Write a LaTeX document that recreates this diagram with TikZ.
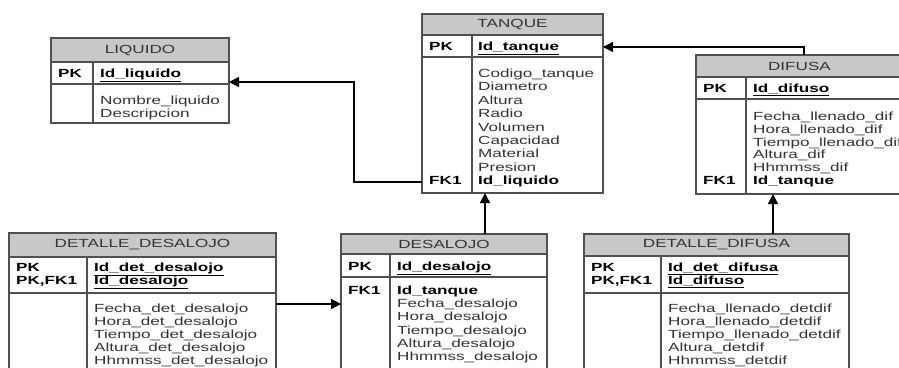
\documentclass[tikz,border=0pt]{standalone}
\usepackage{fontspec}
\setmainfont{Liberation Sans}[FakeStretch=1.45]
\usetikzlibrary{arrows.meta}

\definecolor{hdrfill}{HTML}{C8C8C8}
\definecolor{framecol}{HTML}{505050}
\definecolor{txtcol}{HTML}{333333}

\tikzset{
  tablebox/.style={draw=framecol, line width=1.1pt, inner sep=0pt, outer sep=0pt},
  rule/.style={draw=framecol, line width=1.1pt},
  headtxt/.style={inner sep=0pt, text=txtcol, font=\fontsize{11.8}{13}\selectfont},
  keytxt/.style={inner sep=0pt, anchor=base west, text=black, font=\fontsize{11.8}{13}\selectfont\bfseries},
  attrtxt/.style={inner sep=0pt, anchor=base west, text=txtcol, font=\fontsize{11.8}{13}\selectfont},
  conn/.style={draw=black, line width=1.3pt, -{Triangle[length=10pt,width=10pt]}},
}

% #1 name, #2 left, #3 right, #4 top, #5 header bottom, #6 key row bottom,
% #7 bottom, #8 column divider, #9 title
\newcommand\ertable[9]{%
  \fill[hdrfill] (#2,#4) rectangle (#3,#5);
  \node[tablebox, minimum width={(#3)-(#2)}, minimum height={(#7)-(#4)}]
    (#1) at ({((#2)+(#3))/2},{((#4)+(#7))/2}) {};
  \draw[rule] (#2,#5) -- (#3,#5) (#2,#6) -- (#3,#6) (#8,#5) -- (#8,#7);
  \node[headtxt] (#1-title) at ({((#2)+(#3))/2},{((#4)+(#5))/2}) {#9};
}

\begin{document}
\begin{tikzpicture}[x=1pt,y=-1pt]
\path[use as bounding box, clip] (0,0) rectangle (899,367);
\fill[white] (0,0) rectangle (899,367);

% LIQUIDO
\ertable{liquido}{51}{229}{38}{62}{84}{123}{93}{LIQUIDO}
\node[keytxt] (liquido-pk) at (58,77) {PK};
\node[keytxt] (liquido-id) at (100,77) {\underline{Id\_liquido}};
\foreach \t [count=\i from 0] in {Nombre\_liquido, Descripcion}
  \node[attrtxt] (liquido-a\i) at (100,{104.5+12.5*\i}) {\t};

% TANQUE
\ertable{tanque}{422}{603}{14}{35}{57}{193}{472}{TANQUE}
\node[keytxt] (tanque-pk) at (429,50.5) {PK};
\node[keytxt] (tanque-id) at (478,50.5) {\underline{Id\_tanque}};
\foreach \t [count=\i from 0] in {Codigo\_tanque, Diametro, Altura, Radio, Volumen, Capacidad, Material, Presion}
  \node[attrtxt] (tanque-a\i) at (478,{77.5+13.4*\i}) {\t};
\node[keytxt] (tanque-fk) at (429,184.5) {FK1};
\node[keytxt] (tanque-fkf) at (478,184.5) {Id\_liquido};

% DIFUSA
\ertable{difusa}{696}{903}{55}{77}{99}{194}{746}{DIFUSA}
\node[keytxt] (difusa-pk) at (703,92.5) {PK};
\node[keytxt] (difusa-id) at (753,92.5) {\underline{Id\_difuso}};
\foreach \t [count=\i from 0] in {Fecha\_llenado\_dif, Hora\_llenado\_dif, Tiempo\_llenado\_dif, Altura\_dif, Hhmmss\_dif}
  \node[attrtxt] (difusa-a\i) at (753,{120.5+12.8*\i}) {\t};
\node[keytxt] (difusa-fk) at (703,184.5) {FK1};
\node[keytxt] (difusa-fkf) at (753,184.5) {Id\_tanque};

% DETALLE_DESALOJO
\ertable{detdes}{9}{276}{233}{257}{293}{380}{87}{DETALLE\_DESALOJO}
\node[keytxt] (detdes-pk) at (16,271.5) {PK};
\node[keytxt] (detdes-pkfk) at (16,284.5) {PK,FK1};
\node[keytxt] (detdes-id) at (94,271.5) {\underline{Id\_det\_desalojo}};
\node[keytxt] (detdes-id2) at (94,284.5) {\underline{Id\_desalojo}};
\foreach \t [count=\i from 0] in {Fecha\_det\_desalojo, Hora\_det\_desalojo, Tiempo\_det\_desalojo, Altura\_det\_desalojo, Hhmmss\_det\_desalojo}
  \node[attrtxt] (detdes-a\i) at (94,{312.5+13*\i}) {\t};

% DESALOJO
\ertable{desalojo}{341}{547}{234}{254}{277}{380}{390}{DESALOJO}
\node[keytxt] (desalojo-pk) at (348,270.5) {PK};
\node[keytxt] (desalojo-id) at (397,270.5) {\underline{Id\_desalojo}};
\node[keytxt] (desalojo-fk) at (348,294.5) {FK1};
\node[keytxt] (desalojo-fkf) at (397,294.5) {Id\_tanque};
\foreach \t [count=\i from 1] in {Fecha\_desalojo, Hora\_desalojo, Tiempo\_desalojo, Altura\_desalojo, Hhmmss\_desalojo}
  \node[attrtxt] (desalojo-a\i) at (397,{294.5+13.2*\i}) {\t};

% DETALLE_DIFUSA
\ertable{detdif}{584}{849}{234}{256}{293}{380}{661}{DETALLE\_DIFUSA}
\node[keytxt] (detdif-pk) at (591,271.5) {PK};
\node[keytxt] (detdif-pkfk) at (591,284.5) {PK,FK1};
\node[keytxt] (detdif-id) at (668,271.5) {\underline{Id\_det\_difusa}};
\node[keytxt] (detdif-id2) at (668,284.5) {\underline{Id\_difuso}};
\foreach \t [count=\i from 0] in {Fecha\_llenado\_detdif, Hora\_llenado\_detdif, Tiempo\_llenado\_detdif, Altura\_detdif, Hhmmss\_detdif}
  \node[attrtxt] (detdif-a\i) at (668,{312.5+13*\i}) {\t};

% relationship attachment points
\coordinate (liqFK) at (tanque.west |- 0,182);
\coordinate (liqPK) at (liquido.east |- 0,82);
\coordinate (tanPK) at (tanque.east |- 0,47);
\coordinate (difTop) at (difusa.north -| 804,0);
\coordinate (desTop) at (desalojo.north -| 485,0);
\coordinate (tanBot) at (tanque.south -| 485,0);
\coordinate (ddifTop) at (detdif.north -| 773,0);
\coordinate (difBot) at (difusa.south -| 773,0);
\coordinate (ddesOut) at (detdes.east |- 0,304);
\coordinate (desIn) at (desalojo.west |- 0,304);

% relationships
\draw[conn] (liqFK) -| (354,82) -- (liqPK);
\draw[conn] (difTop) |- (tanPK);
\draw[conn] (desTop) -- (tanBot);
\draw[conn] (ddifTop) -- (difBot);
\draw[conn] (ddesOut) -- (desIn);
\end{tikzpicture}
\end{document}
